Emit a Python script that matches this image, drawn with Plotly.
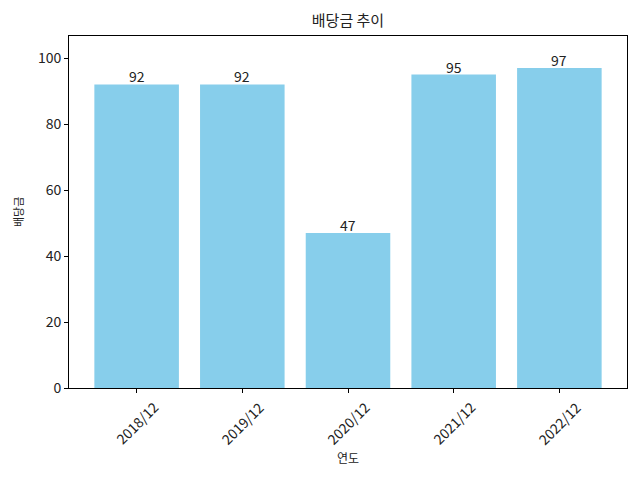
import plotly.graph_objects as go

years = ["2018/12", "2019/12", "2020/12", "2021/12", "2022/12"]
dividends = [92, 92, 47, 95, 97]

FONT = "Noto Sans CJK KR"
TXT = "#222222"

fig = go.Figure()
fig.add_trace(go.Bar(
    x=years, y=dividends,
    marker=dict(color="#87CEEB", line=dict(width=0)),
    width=0.8,
    hoverinfo="x+y",
))

annotations = []
# value labels right on top of bars
for yr, v in zip(years, dividends):
    annotations.append(dict(
        x=yr, y=v, xref="x", yref="y", text=str(v), showarrow=False,
        xanchor="center", yanchor="bottom", yshift=-4,
        font=dict(family=FONT, size=14, color=TXT),
    ))
# rotated, centre-aligned x tick labels (matplotlib style)
for yr in years:
    annotations.append(dict(
        x=yr, y=0, xref="x", yref="paper", text=yr, showarrow=False,
        textangle=-45, xanchor="center", yanchor="middle", yshift=-35,
        font=dict(family=FONT, size=14, color=TXT),
    ))
# axis titles
annotations.append(dict(
    x=0.5, y=0, xref="paper", yref="paper", text="연도", showarrow=False,
    xanchor="center", yanchor="middle", yshift=-69,
    font=dict(family=FONT, size=12, color=TXT),
))
annotations.append(dict(
    x=0, y=0.5, xref="paper", yref="paper", text="배당금", showarrow=False,
    textangle=-90, xanchor="center", yanchor="middle", xshift=-51,
    font=dict(family=FONT, size=11, color=TXT),
))

fig.update_layout(
    width=640, height=480,
    margin=dict(l=69, r=13, t=36, b=92),
    paper_bgcolor="white", plot_bgcolor="white",
    font=dict(family=FONT, size=14, color=TXT),
    title=dict(text="배당금 추이", x=(69 + 627) / 2 / 640, xanchor="center",
               y=1 - 21 / 480, yanchor="middle",
               font=dict(family=FONT, size=15, color=TXT)),
    showlegend=False,
    annotations=annotations,
)
fig.update_xaxes(
    type="category",
    range=[-0.64, 4.64],
    showticklabels=False,
    ticks="outside", ticklen=4, tickcolor="black",
    showline=True, linecolor="black", linewidth=1, mirror=True,
    showgrid=False,
)
fig.update_yaxes(
    range=[0, 106.7],
    tickvals=[0, 20, 40, 60, 80, 100],
    tickfont=dict(family=FONT, size=14, color=TXT),
    ticks="outside", ticklen=4, tickcolor="black",
    showline=True, linecolor="black", linewidth=1, mirror=True,
    showgrid=False, zeroline=False,
)

fig.write_html("out.html")
